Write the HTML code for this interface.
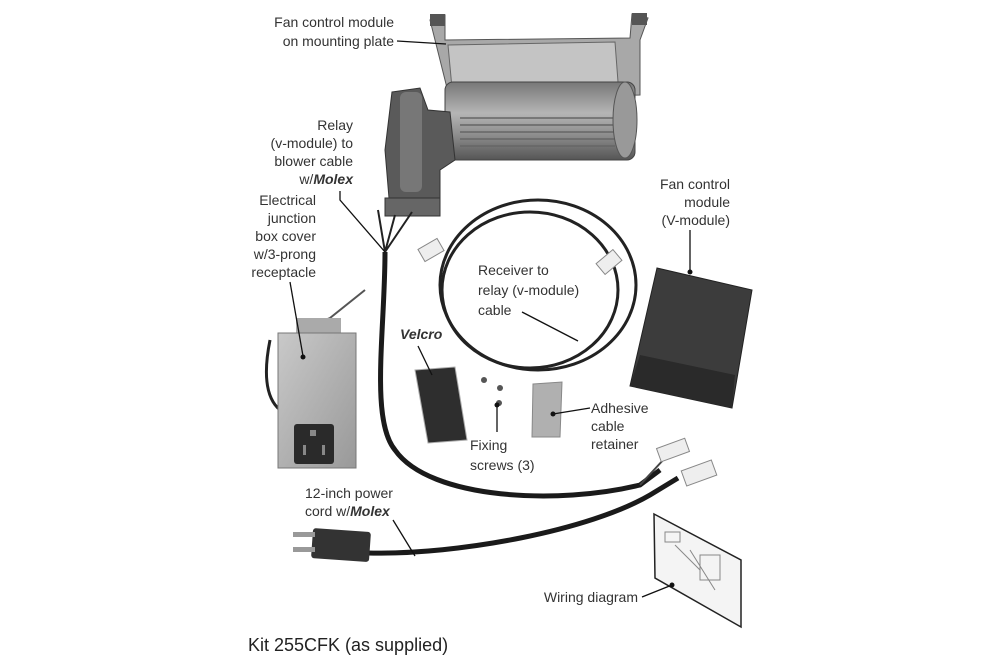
<!DOCTYPE html>
<html><head><meta charset="utf-8"><style>
html,body{margin:0;padding:0;background:#fff}
svg{display:block}
text{font-family:"Liberation Sans",sans-serif;font-size:14px;fill:#333}
</style></head><body>
<svg width="1000" height="667" viewBox="0 0 1000 667">
<defs>
<linearGradient id="drum" x1="0" y1="0" x2="0" y2="1"><stop offset="0" stop-color="#777"/><stop offset=".4" stop-color="#b5b5b5"/><stop offset=".7" stop-color="#8a8a8a"/><stop offset="1" stop-color="#555"/></linearGradient>
<linearGradient id="box" x1="0" y1="0" x2="1" y2="1"><stop offset="0" stop-color="#c9c9c9"/><stop offset="1" stop-color="#999"/></linearGradient>
</defs>
<!-- blower mounting plate -->
<path d="M430 20 L445 15 L445 40 L630 38 L632 14 L648 18 L640 40 L640 95 L450 100 Z" fill="#a8a8a8" stroke="#555"/>
<path d="M448 45 L615 42 L618 82 L452 88 Z" fill="#c4c4c4" stroke="#666"/>
<rect x="430" y="14" width="15" height="12" fill="#555"/><rect x="632" y="13" width="15" height="12" fill="#555"/>
<!-- drum -->
<rect x="445" y="82" width="190" height="78" rx="8" fill="url(#drum)" stroke="#444"/>
<g stroke="#666" stroke-width="1.5">
<line x1="460" y1="118" x2="615" y2="118"/><line x1="460" y1="125" x2="615" y2="125"/><line x1="460" y1="132" x2="615" y2="132"/><line x1="460" y1="139" x2="615" y2="139"/><line x1="460" y1="146" x2="615" y2="146"/>
</g>
<ellipse cx="625" cy="120" rx="12" ry="38" fill="#999" stroke="#555"/>
<!-- motor -->
<path d="M392 92 L420 88 L428 110 L450 112 L455 160 L440 170 L440 205 L428 215 L390 210 L385 150 Z" fill="#5a5a5a" stroke="#333"/>
<rect x="400" y="92" width="22" height="100" rx="6" fill="#777"/>
<rect x="385" y="198" width="55" height="18" fill="#666" stroke="#333"/>
<!-- wires from motor -->
<path d="M385 252 L378 210 M385 252 L395 215 M385 252 L412 212" stroke="#222" stroke-width="2" fill="none"/>
<!-- receiver cable coil -->
<ellipse cx="538" cy="285" rx="98" ry="85" fill="none" stroke="#222" stroke-width="3"/>
<ellipse cx="530" cy="290" rx="88" ry="78" fill="none" stroke="#222" stroke-width="3"/>
<rect x="420" y="243" width="22" height="14" fill="#eee" stroke="#888" transform="rotate(-30 431 250)"/>
<rect x="598" y="255" width="22" height="14" fill="#eee" stroke="#888" transform="rotate(-40 609 262)"/>
<!-- main cable -->
<path d="M385 252 C385 330 370 420 395 450 C430 500 560 505 640 485 L660 470" stroke="#1a1a1a" stroke-width="5" fill="none"/>
<path d="M640 485 L665 458" stroke="#444" stroke-width="2" fill="none"/>
<rect x="658" y="443" width="30" height="14" fill="#eee" stroke="#888" transform="rotate(-20 673 450)"/>
<!-- power cord -->
<path d="M368 553 C460 555 590 530 650 495 L678 478" stroke="#1a1a1a" stroke-width="5" fill="none"/>
<rect x="683" y="465" width="32" height="16" fill="#eee" stroke="#888" transform="rotate(-20 699 473)"/>
<rect x="312" y="530" width="58" height="30" rx="3" fill="#333" transform="rotate(4 340 545)"/>
<rect x="293" y="532" width="22" height="5" fill="#999"/><rect x="293" y="547" width="22" height="5" fill="#999"/>
<!-- junction box -->
<path d="M270 340 C262 380 268 400 280 410" stroke="#222" stroke-width="3" fill="none"/>
<path d="M300 330 L330 318 L365 290" stroke="#555" stroke-width="2" fill="none"/>
<rect x="296" y="318" width="45" height="16" fill="#aaa"/>
<rect x="278" y="333" width="78" height="135" fill="url(#box)" stroke="#777"/>
<rect x="294" y="424" width="40" height="40" rx="3" fill="#2a2a2a"/>
<rect x="310" y="430" width="6" height="6" fill="#888"/><rect x="303" y="445" width="3" height="10" fill="#888"/><rect x="322" y="445" width="3" height="10" fill="#888"/>
<!-- fan control module -->
<path d="M657 268 L752 290 L732 408 L630 386 Z" fill="#3c3c3c" stroke="#222"/>
<path d="M640 355 L735 375 L732 408 L630 386 Z" fill="#2a2a2a"/>
<!-- velcro -->
<path d="M415 370 L455 367 L467 440 L428 443 Z" fill="#2e2e2e" stroke="#aaa"/>
<!-- screws -->
<circle cx="484" cy="380" r="3" fill="#555"/><circle cx="500" cy="388" r="3" fill="#555"/><circle cx="499" cy="403" r="3" fill="#555"/>
<!-- adhesive -->
<path d="M533 384 L562 382 L560 437 L532 437 Z" fill="#b0b0b0" stroke="#888"/>
<!-- wiring diagram -->
<path d="M654 514 L741 560 L741 627 L655 578 Z" fill="#f4f4f4" stroke="#222" stroke-width="1.5"/>
<g stroke="#888" stroke-width="1" fill="none"><rect x="665" y="532" width="15" height="10"/><rect x="700" y="555" width="20" height="25"/><path d="M675 545 L700 570 M690 550 L715 590"/></g>
<!-- leaders -->
<g stroke="#111" stroke-width="1.3" fill="none">
<line x1="397" y1="41" x2="446" y2="44"/>
<path d="M340 191 L340 200 L385 252"/>
<path d="M290 282 L303 356"/>
<line x1="690" y1="230" x2="690" y2="272"/>
<line x1="522" y1="312" x2="578" y2="341"/>
<line x1="418" y1="346" x2="432" y2="375"/>
<line x1="497" y1="405" x2="497" y2="432"/>
<line x1="553" y1="414" x2="590" y2="408"/>
<line x1="393" y1="520" x2="415" y2="556"/>
<line x1="642" y1="597" x2="672" y2="585"/>
</g>
<g fill="#111"><circle cx="303" cy="357" r="2.5"/><circle cx="497" cy="405" r="2.5"/><circle cx="553" cy="414" r="2.5"/><circle cx="672" cy="585" r="2.5"/><circle cx="690" cy="272" r="2.5"/></g>
<!-- labels -->
<g text-anchor="end">
<text x="394" y="27">Fan control module</text><text x="394" y="46">on mounting plate</text>
<text x="353" y="130">Relay</text><text x="353" y="148">(v-module) to</text><text x="353" y="166">blower cable</text>
<text x="353" y="184">w/<tspan font-weight="bold" font-style="italic">Molex</tspan></text>
<text x="316" y="205">Electrical</text><text x="316" y="223">junction</text><text x="316" y="241">box cover</text><text x="316" y="259">w/3-prong</text><text x="316" y="277">receptacle</text>
<text x="730" y="189">Fan control</text><text x="730" y="207">module</text><text x="730" y="225">(V-module)</text>
<text x="638" y="602">Wiring diagram</text>
</g>
<text x="478" y="275">Receiver to</text><text x="478" y="295">relay (v-module)</text><text x="478" y="315">cable</text>
<text x="400" y="339" font-weight="bold" font-style="italic">Velcro</text>
<text x="470" y="450">Fixing</text><text x="470" y="470">screws (3)</text>
<text x="591" y="413">Adhesive</text><text x="591" y="431">cable</text><text x="591" y="449">retainer</text>
<text x="305" y="498">12-inch power</text><text x="305" y="516">cord w/<tspan font-weight="bold" font-style="italic">Molex</tspan></text>
<text x="248" y="651" style="font-size:18px;fill:#222">Kit 255CFK (as supplied)</text>
</svg>
</body></html>
